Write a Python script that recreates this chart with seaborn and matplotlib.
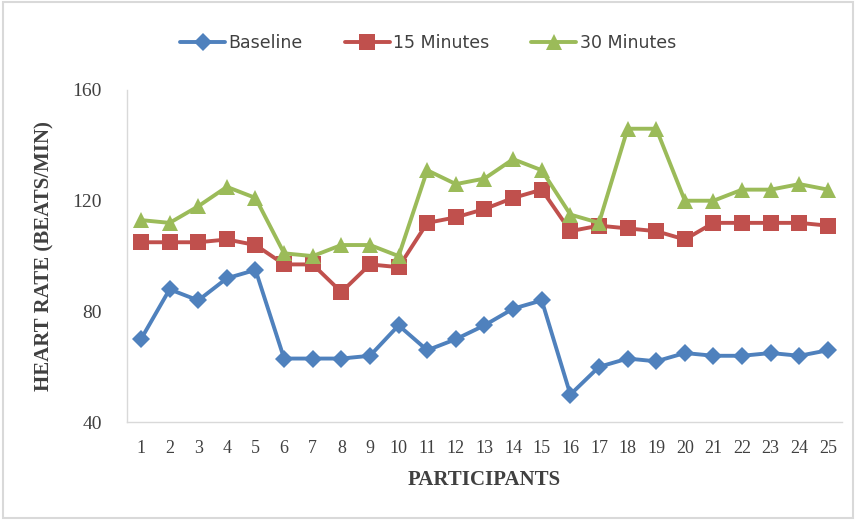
import numpy as np
import pandas as pd
import matplotlib
matplotlib.use('Agg')
import matplotlib.pyplot as plt
import seaborn as sns
from matplotlib.patches import Rectangle

# Heart rate per participant (beats/min)
participants = list(range(1, 26))
baseline = [70, 88, 84, 92, 95, 63, 63, 63, 64, 75, 66, 70, 75, 81, 84,
            50, 60, 63, 62, 65, 64, 64, 65, 64, 66]
min_15 = [105, 105, 105, 106, 104, 97, 97, 87, 97, 96, 112, 114, 117, 121, 124,
          109, 111, 110, 109, 106, 112, 112, 112, 112, 111]
min_30 = [113, 112, 118, 125, 121, 101, 100, 104, 104, 100, 131, 126, 128, 135, 131,
          115, 112, 146, 146, 120, 120, 124, 124, 126, 124]
series_names = ['Baseline', '15 Minutes', '30 Minutes']
y_ticks = [40, 80, 120, 160]

df = pd.DataFrame({
    'participant': participants * 3,
    'rate': baseline + min_15 + min_30,
    'series': np.repeat(series_names, len(participants)),
})

sns.set_style('white')
fig = plt.figure(figsize=(8.56, 5.2), dpi=100)
ax = fig.add_axes([0.148, 0.188, 0.836, 0.639])

palette = {'Baseline': '#4F81BD', '15 Minutes': '#C0504D', '30 Minutes': '#9BBB59'}
markers = {'Baseline': 'D', '15 Minutes': 's', '30 Minutes': '^'}
sizes = {'Baseline': 9, '15 Minutes': 11, '30 Minutes': 11}

for name in series_names:
    sub = df[df['series'] == name]
    sns.lineplot(data=sub, x='participant', y='rate', color=palette[name],
                 marker=markers[name], markersize=sizes[name], markeredgewidth=0,
                 linewidth=2.8, label=name, ax=ax)

ax.set_xlim(0.5, 25.5)
ax.set_ylim(40, 160)
ax.set_yticks(y_ticks)
ax.set_xticks(participants)
ax.set_xticklabels([str(p) for p in participants], fontsize=13,
                   family='Liberation Serif', color='#404040')
ax.set_yticklabels([str(t) for t in y_ticks], fontsize=14,
                   family='Liberation Serif', color='#404040')
ax.tick_params(axis='x', length=0, pad=13)
ax.tick_params(axis='y', length=0, pad=18)

for s in ['top', 'right']:
    ax.spines[s].set_visible(False)
ax.spines['left'].set_color('#D9D9D9')
ax.spines['bottom'].set_color('#D9D9D9')
ax.spines['left'].set_linewidth(1)
ax.spines['bottom'].set_linewidth(1)

ax.set_xlabel('PARTICIPANTS', fontsize=15, fontweight='bold',
              family='Liberation Serif', color='#404040', labelpad=9)
ax.set_ylabel('HEART RATE (BEATS/MIN)', fontsize=15, fontweight='bold',
              family='Liberation Serif', color='#404040', labelpad=13)

leg = fig.legend(*ax.get_legend_handles_labels(), loc='center',
                 bbox_to_anchor=(0.5, 0.918), ncol=3, frameon=False,
                 fontsize=12.5, handlelength=2.6, columnspacing=2.4, handletextpad=0.2)
for t in leg.get_texts():
    t.set_color('#404040')
ax.get_legend().remove()

fig.patches.append(Rectangle((0.004, 0.004), 0.992, 0.992, transform=fig.transFigure,
                             fill=False, edgecolor='#D9D9D9', linewidth=1.5))

fig.savefig('out.png', dpi=100)
